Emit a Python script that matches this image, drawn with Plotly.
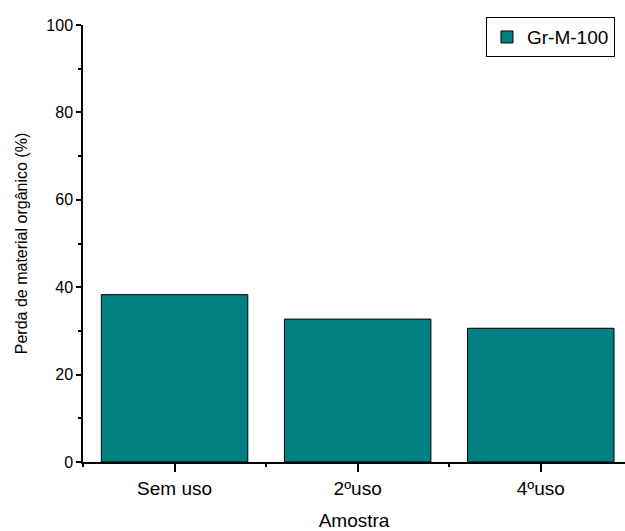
import plotly.graph_objects as go

categories = ["Sem uso", "2ºuso", "4ºuso"]
values = [38.3, 32.7, 30.6]
series_name = "Gr-M-100"
positions = list(range(len(categories)))

fig = go.Figure()
fig.add_trace(go.Bar(
    x=positions, y=values, name=series_name, width=0.8,
    marker=dict(color="#008080", line=dict(color="black", width=1)),
    showlegend=True,
))

fam = "Liberation Sans, Arial, sans-serif"
fig.update_layout(
    width=625, height=531,
    margin=dict(l=83, r=0, t=25, b=69),
    paper_bgcolor="white", plot_bgcolor="white",
    font=dict(family=fam, size=16, color="black"),
    showlegend=True,
    legend=dict(x=0.9815, xanchor="right", y=1.018, yanchor="top",
                bordercolor="black", borderwidth=1, bgcolor="white",
                itemwidth=30,
                font=dict(size=19)),
    xaxis=dict(
        range=[-0.5, 2.46], tickvals=positions, ticktext=categories,
        showline=True, linecolor="black", linewidth=1.5,
        ticks="outside", ticklen=8, tickwidth=1.5, tickcolor="black",
        minor=dict(tick0=0.5, dtick=1, ticks="outside", ticklen=3, tickwidth=1.5, tickcolor="black"),
        showgrid=False, zeroline=False,
        title=dict(text="Amostra", standoff=17, font=dict(size=19)),
        tickfont=dict(size=19),
    ),
    yaxis=dict(
        range=[0, 100], tickvals=[0, 20, 40, 60, 80, 100],
        showline=True, linecolor="black", linewidth=1.5,
        ticks="outside", ticklen=5, tickwidth=1.5, tickcolor="black",
        minor=dict(dtick=10, tick0=0, ticks="outside", ticklen=3, tickwidth=1.5, tickcolor="black"),
        showgrid=False, zeroline=False,
        title=dict(text="Perda de material orgânico (%)", standoff=15, font=dict(size=16)),
        tickfont=dict(size=16),
    ),
)
fig.write_html("out.html", config={"displayModeBar": False},
               post_script="document.body.style.margin='0';")
